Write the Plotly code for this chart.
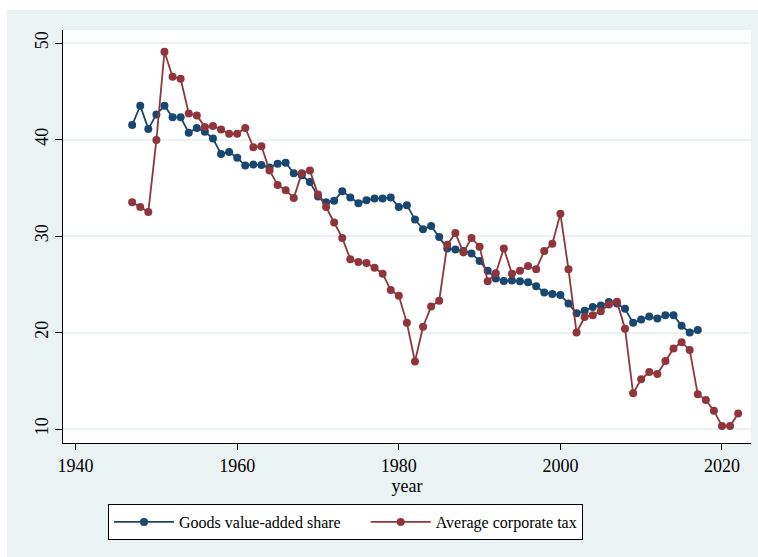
import plotly.graph_objects as go

# Goods value-added share (1947-2017)
goods_years = list(range(1947, 2018))
goods_share = [
    41.5, 43.5, 41.1, 42.6, 43.5, 42.3, 42.3, 40.7, 41.2, 40.8,
    40.1, 38.5, 38.7, 38.1, 37.3, 37.4, 37.35, 37.1, 37.5, 37.6,
    36.5, 36.3, 35.6, 34.1, 33.5, 33.65, 34.65, 34.0, 33.4, 33.7,
    33.9, 33.9, 34.0, 33.0, 33.2, 31.7, 30.7, 31.05, 29.9, 28.7,
    28.6, 28.45, 28.2, 27.4, 26.4, 25.6, 25.35, 25.4, 25.3, 25.2,
    24.8, 24.15, 24.0, 23.9, 23.0, 22.0, 22.25, 22.65, 22.8, 23.15,
    23.0, 22.45, 21.0, 21.35, 21.65, 21.45, 21.8, 21.8, 20.7, 20.0,
    20.25,
]

# Average corporate tax (1947-2022)
tax_years = list(range(1947, 2023))
corp_tax = [
    33.5, 33.0, 32.5, 39.95, 49.1, 46.5, 46.3, 42.7, 42.5, 41.3,
    41.4, 41.05, 40.6, 40.6, 41.2, 39.2, 39.3, 36.8, 35.3, 34.75,
    33.95, 36.5, 36.8, 34.3, 33.0, 31.4, 29.8, 27.6, 27.3, 27.2,
    26.7, 26.1, 24.4, 23.8, 21.0, 17.0, 20.6, 22.7, 23.3, 29.1,
    30.3, 28.3, 29.8, 28.9, 25.3, 26.15, 28.7, 26.1, 26.4, 26.9,
    26.55, 28.45, 29.2, 32.3, 26.55, 20.0, 21.6, 21.8, 22.2, 22.9,
    23.2, 20.4, 13.7, 15.15, 15.9, 15.7, 17.05, 18.35, 19.0, 18.2,
    13.6, 13.0, 11.9, 10.3, 10.3, 11.6,
]

x_ticks = [1940, 1960, 1980, 2000, 2020]
y_ticks = [10, 20, 30, 40, 50]

NAVY = "#1A476F"
MAROON = "#90353B"
BG = "#EAF2F3"
FONT = "Liberation Serif, Times New Roman, serif"

W, H = 758, 557
L, R, T, B = 63, 7, 30, 114
pw, ph = W - L - R, H - T - B

# non-breaking spaces widen the gap between the two legend entries
GAP = "\u00a0" * 5

fig = go.Figure()
fig.add_trace(go.Scatter(
    x=goods_years, y=goods_share, mode="lines+markers",
    name="Goods value-added share" + GAP,
    line=dict(color=NAVY, width=1.8),
    marker=dict(color=NAVY, size=8, symbol="circle"),
))
fig.add_trace(go.Scatter(
    x=tax_years, y=corp_tax, mode="lines+markers",
    name="Average corporate tax",
    line=dict(color=MAROON, width=1.8),
    marker=dict(color=MAROON, size=8, symbol="circle"),
))

# outer graph region tint and white plot region
shapes = [
    dict(type="rect", xref="paper", yref="paper", layer="below",
         x0=(7 - L) / pw, x1=(W - L) / pw,
         y0=-(H - (T + ph)) / ph, y1=1 + (T - 10) / ph,
         fillcolor=BG, line=dict(width=0)),
    dict(type="rect", xref="paper", yref="paper", layer="below",
         x0=0, x1=1, y0=0, y1=1,
         fillcolor="white", line=dict(width=0)),
]

fig.update_layout(
    width=W, height=H,
    margin=dict(l=L, r=R, t=T, b=B, autoexpand=False),
    paper_bgcolor="white", plot_bgcolor="white",
    font=dict(family=FONT, color="black", size=18),
    shapes=shapes,
    showlegend=True,
    legend=dict(
        orientation="h",
        x=(108 - L) / pw, xanchor="left",
        y=-(504 - (T + ph)) / ph, yanchor="top",
        bgcolor="white", bordercolor="black", borderwidth=1,
        font=dict(family=FONT, size=16, color="black"),
        itemwidth=60,
        tracegroupgap=0,
    ),
    xaxis=dict(
        range=[1938.44, 2023.59],
        tickvals=x_ticks, ticktext=[str(v) for v in x_ticks],
        showgrid=False, zeroline=False,
        showline=True, linecolor="black", linewidth=1,
        ticks="outside", ticklen=6, tickcolor="black", tickwidth=1,
        tickfont=dict(family=FONT, size=18, color="black"),
        title=dict(text="year", font=dict(family=FONT, size=18, color="black"),
                   standoff=2),
    ),
    yaxis=dict(
        range=[8.55, 51.35],
        tickvals=y_ticks, ticktext=[str(v) for v in y_ticks],
        tickangle=-90,
        showgrid=True, gridcolor=BG, gridwidth=1.5,
        zeroline=False,
        showline=True, linecolor="black", linewidth=1,
        ticks="outside", ticklen=7, tickcolor="black", tickwidth=1,
        tickfont=dict(family=FONT, size=18, color="black"),
    ),
)

fig.write_html("out.html")
